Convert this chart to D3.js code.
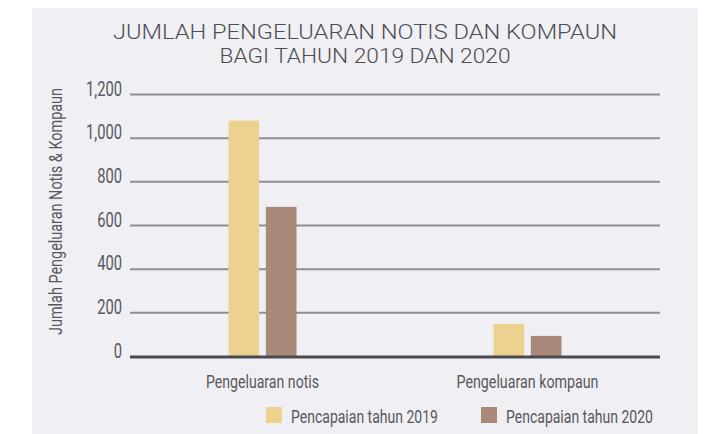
<!DOCTYPE html>
<html><head><meta charset="utf-8">
<script src="https://cdn.jsdelivr.net/npm/d3@7"></script>
<style>
html,body{margin:0;padding:0;background:#fff;}
text{font-family:"Roboto","Liberation Sans",sans-serif;}
</style></head>
<body><svg id="c" width="705" height="434"></svg>
<script>
const categories = ["Pengeluaran notis", "Pengeluaran kompaun"];
const seriesNames = ["Pencapaian tahun 2019", "Pencapaian tahun 2020"];
const values2019 = [1078, 147];
const values2020 = [683, 92];
const yTicks = [0, 200, 400, 600, 800, 1000, 1200];
const colors = ["#edd18f", "#a88878"];
const titleLines = ["JUMLAH PENGELUARAN NOTIS DAN KOMPAUN", "BAGI TAHUN 2019 DAN 2020"];
const yLabel = "Jumlah Pengeluaran Notis & Kompaun";

const txt = "#58585b";
const svg = d3.select("#c");
svg.append("rect").attr("x",32).attr("y",8).attr("width",666).attr("height",426).attr("fill","#efeff4");

const pL=130, pR=660, pT=94, pB=356;
const x = d3.scaleBand().domain(categories).range([pL,pR]).padding(0);
const y = d3.scaleLinear().domain([0,1200]).range([pB,pT]);
const inner = d3.scaleBand().domain([0,1]).range([0,68]).paddingInner(0.18);

function fit(sel, w){ sel.attr("textLength", w).attr("lengthAdjust","spacingAndGlyphs"); }

// title
const titleW = [504, 291];
svg.append("g").selectAll("text").data(titleLines).join("text")
  .attr("text-anchor","middle").attr("font-size",20.5).attr("fill","#4d4d50").attr("font-weight",300)
  .attr("x",365).attr("y",(d,i)=>38.5+i*24).text(d=>d)
  .each(function(d,i){ fit(d3.select(this), titleW[i]); });

// grid + y ticks
const yAxis = d3.axisLeft(y).tickValues(yTicks).tickSize(-(pR-pL)).tickPadding(8)
  .tickFormat(d3.format(","));
const ga = svg.append("g").attr("transform",`translate(${pL},0)`).call(yAxis);
ga.select(".domain").remove();
ga.selectAll(".tick line").attr("stroke","#8e8e94").attr("stroke-width",2)
  .attr("display",d=>d===0?"none":null);
const tt = ga.selectAll(".tick text").attr("font-size",20).attr("fill",txt).attr("x",-8).attr("dy","0.05em");
let k = 1;
tt.each(function(d){ if(d===1200){ k = 36/this.getComputedTextLength(); } });
tt.each(function(){ fit(d3.select(this), this.getComputedTextLength()*k); });

// y label
fit(svg.append("text").attr("transform",`translate(62,211.5) rotate(-90)`)
  .attr("text-anchor","middle").attr("font-size",18).attr("fill",txt).text(yLabel), 247);

// bars
const rows = categories.map((c,i)=>({c, v:[values2019[i], values2020[i]]}));
const g = svg.append("g").selectAll("g").data(rows).join("g")
  .attr("transform",d=>`translate(${x(d.c)+x.bandwidth()/2-34},0)`);
g.selectAll("rect").data(d=>d.v.map((v,j)=>({v,j}))).join("rect")
  .attr("x",d=>inner(d.j)).attr("width",inner.bandwidth())
  .attr("y",d=>y(d.v)).attr("height",d=>pB-y(d.v)).attr("fill",d=>colors[d.j]);

// x axis line
svg.append("line").attr("x1",pL).attr("x2",pR).attr("y1",pB+1).attr("y2",pB+1)
  .attr("stroke","#4a4a4e").attr("stroke-width",3);
const xAxis = d3.axisBottom(x).tickSize(0).tickPadding(0);
const gx = svg.append("g").attr("transform",`translate(0,${pB})`).call(xAxis);
gx.select(".domain").remove();
const catW = [113, 142];
gx.selectAll(".tick text").attr("font-size",19).attr("fill",txt).attr("y",32).attr("dy",0)
  .each(function(d,i){ fit(d3.select(this), catW[i]); });

// legend
const legX = [266, 481];
const lg = svg.append("g").selectAll("g").data(seriesNames).join("g")
  .attr("transform",(d,i)=>`translate(${legX[i]},407)`);
lg.append("rect").attr("width",16).attr("height",16).attr("fill",(d,i)=>colors[i]);
lg.append("text").attr("x",25).attr("y",16).attr("font-size",19).attr("fill",txt).text(d=>d)
  .each(function(){ fit(d3.select(this), 147); });
</script></body></html>
